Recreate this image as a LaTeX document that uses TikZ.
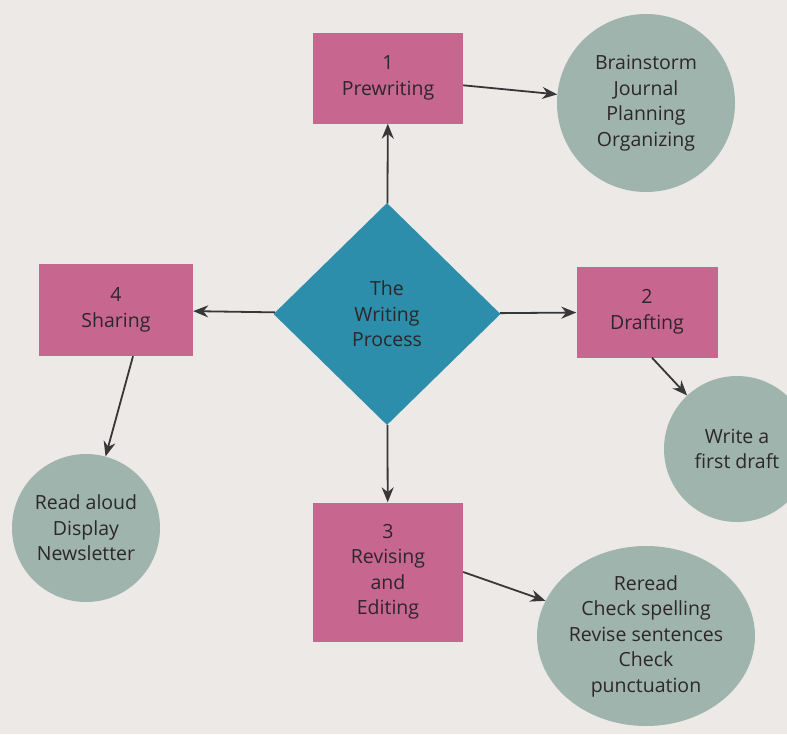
\documentclass[tikz,border=0pt]{standalone}
\usepackage{fontspec}
\setmainfont{Open Sans}
\usetikzlibrary{shapes.geometric,arrows.meta}

\definecolor{paper}{RGB}{236,233,231}
\definecolor{stagepink}{RGB}{199,103,143}
\definecolor{ideagreen}{RGB}{158,180,172}
\definecolor{hubblue}{RGB}{44,142,170}
\definecolor{inkgray}{RGB}{45,38,42}
\definecolor{linegray}{RGB}{55,55,55}

\begin{document}
\begin{tikzpicture}[x=1pt, y=-1pt,
    every node/.style = {align=center, text=inkgray,
      font=\fontsize{19.5}{25.5}\selectfont},
    stagebox/.style = {shape=rectangle, fill=stagepink, inner sep=0pt},
    ideacircle/.style = {shape=circle, fill=ideagreen, inner sep=0pt},
    link/.style = {draw=linegray, line width=1.8pt,
      -{Stealth[length=15pt,width=12pt]}}]
    \fill[paper] (0,0) rectangle (787,734);
    \useasboundingbox (0,0) rectangle (787,734);

    % centre
    \node[shape=diamond, fill=hubblue, inner sep=0pt, aspect=1,
      minimum width=227pt, minimum height=222pt] (hub) at (387,314)
      {The\\ Writing\\ Process};

    % the four stages
    \node[stagebox, minimum width=150pt, minimum height=91pt] (prewriting) at (388,78) {1\\ Prewriting};
    \node[stagebox, minimum width=141pt, minimum height=91pt] (drafting) at (647,312) {2\\ Drafting};
    \node[stagebox, minimum width=150pt, minimum height=139pt] (revising) at (388,572) {3\\ Revising\\ and\\ Editing};
    \node[stagebox, minimum width=154pt, minimum height=92pt] (sharing) at (116,310) {4\\ Sharing};

    % what goes on in each stage
    \node[ideacircle, minimum size=178pt] (prewriteideas) at (646,103) {Brainstorm\\ Journal\\ Planning\\ Organizing};
    \node[ideacircle, minimum size=146pt] (draftideas) at (737,449) {Write a\\ first draft};
    \node[ideacircle, shape=ellipse, minimum width=212pt, minimum height=180pt] (reviseideas) at (646,636)
      {Reread\\ Check spelling\\ Revise sentences\\ Check\\ punctuation};
    \node[ideacircle, minimum size=148pt] (shareideas) at (86,528) {Read aloud\\ Display\\ Newsletter};

    \draw[link] (hub) -- (prewriting);
    \draw[link] (hub) -- (drafting);
    \draw[link] (hub) -- (revising);
    \draw[link] (hub) -- (sharing);
    \draw[link] (prewriting) -- (prewriteideas);
    \draw[link] ([xshift=5pt]drafting.south) -- (draftideas);
    \draw[link] (revising.east) -- (reviseideas);
    \draw[link] ([xshift=17pt]sharing.south) -- (shareideas);
\end{tikzpicture}
\end{document}
